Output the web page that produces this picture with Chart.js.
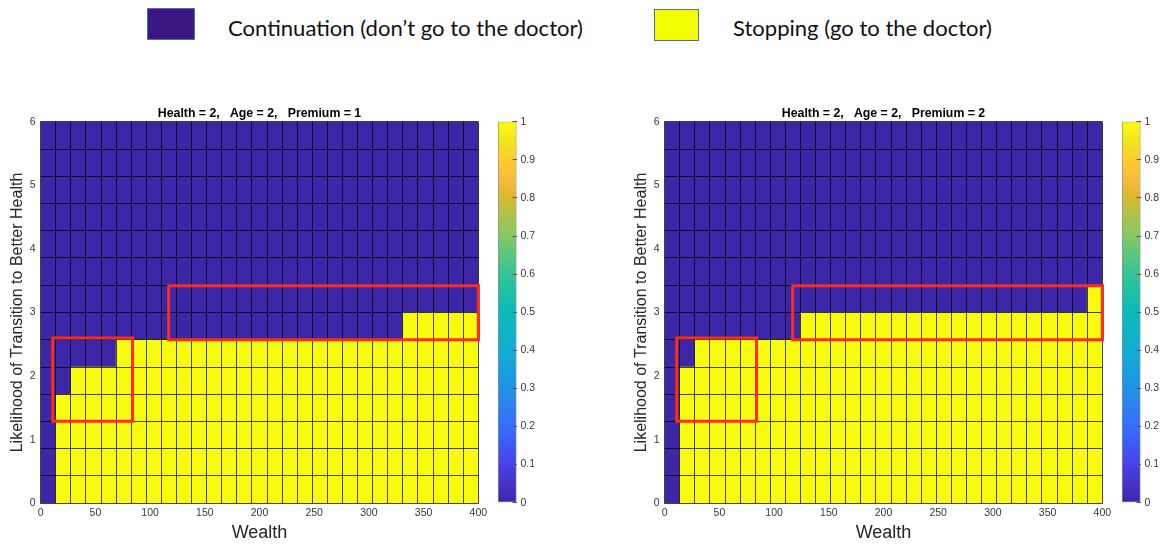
<!DOCTYPE html>
<html>
<head>
<meta charset="utf-8">
<script src="https://cdn.jsdelivr.net/npm/chart.js@4.4.1/dist/chart.umd.min.js"></script>
<style>
  html, body { margin: 0; padding: 0; background: #fff; }
  body { width: 1160px; height: 544px; position: relative; overflow: hidden; }
  canvas { position: absolute; }
  .swatch { position: absolute; box-sizing: border-box; border: 1px solid #4f6fa6; }
  .key { position: absolute; font-family: Lato, "Open Sans", sans-serif; font-size: 21px; line-height: 21px;
         color: #111; white-space: nowrap; transform-origin: 0 0; }
</style>
</head>
<body>
<div class="swatch" style="left:147px;top:8px;width:48px;height:32px;background:#3a1782"></div>
<div class="key" id="keyContinue" style="left:228px;top:17px" data-w="355">Continuation (don’t go to the doctor)</div>
<div class="swatch" style="left:654px;top:9px;width:45px;height:32px;background:#f2ff00"></div>
<div class="key" id="keyStop" style="left:733px;top:17px" data-w="259">Stopping (go to the doctor)</div>

<canvas id="panel1" width="519" height="444" style="left:0px;top:100px"></canvas>
<canvas id="bar1" width="60" height="444" style="left:490px;top:100px"></canvas>
<canvas id="panel2" width="519" height="444" style="left:624px;top:100px"></canvas>
<canvas id="bar2" width="46" height="444" style="left:1114px;top:100px"></canvas>

<script>
// Wealth grid: left edge of each of the 29 cells
const wealthCells = [0, 13.79, 27.59, 41.38, 55.17, 68.97, 82.76, 96.55, 110.34, 124.14,
  137.93, 151.72, 165.52, 179.31, 193.10, 206.90, 220.69, 234.48, 248.28, 262.07,
  275.86, 289.66, 303.45, 317.24, 331.03, 344.83, 358.62, 372.41, 386.21];
// Likelihood grid: edges of the 14 rows
const likelihoodEdges = [0, 0.43, 0.86, 1.29, 1.71, 2.14, 2.57, 3.00, 3.43, 3.86, 4.29, 4.71, 5.14, 5.57, 6];
const wealthTicks = [0, 50, 100, 150, 200, 250, 300, 350, 400];
const likelihoodTicks = [0, 1, 2, 3, 4, 5, 6];
const colorbarTicks = [0, 0.1, 0.2, 0.3, 0.4, 0.5, 0.6, 0.7, 0.8, 0.9, 1];

// Upper edge of the stopping region (value 1) in each wealth cell; above it the value is 0
const stopEdgePremium1 = [0, 1.71, 2.14, 2.14, 2.14, 2.57, 2.57, 2.57, 2.57, 2.57,
  2.57, 2.57, 2.57, 2.57, 2.57, 2.57, 2.57, 2.57, 2.57, 2.57,
  2.57, 2.57, 2.57, 2.57, 3.00, 3.00, 3.00, 3.00, 3.00];
const stopEdgePremium2 = [0, 2.14, 2.57, 2.57, 2.57, 2.57, 2.57, 2.57, 2.57, 3.00,
  3.00, 3.00, 3.00, 3.00, 3.00, 3.00, 3.00, 3.00, 3.00, 3.00,
  3.00, 3.00, 3.00, 3.00, 3.00, 3.00, 3.00, 3.00, 3.43];

// Highlight boxes: wealth range and likelihood range
const boxWealthPremium1 = [[11, 84], [117, 400]];
const boxLikelihoodPremium1 = [[1.29, 2.60], [2.57, 3.42]];
const boxWealthPremium2 = [[11, 84], [117, 400]];
const boxLikelihoodPremium2 = [[1.29, 2.60], [2.57, 3.42]];

// Parula colour map samples
const parulaPos = [0, 0.1, 0.2, 0.3, 0.4, 0.5, 0.6, 0.7, 0.8, 0.85, 0.9, 0.95, 1];
const parulaCol = ['#3e26a8', '#4743e8', '#3570fa', '#2192e6', '#13acd4', '#08bbbb', '#34c395',
  '#81c962', '#d7ba32', '#fcba3e', '#fccd30', '#f4e51e', '#f9fb0e'];

const COL_ZERO = '#3e26a8';
const COL_ONE = '#f9fb0e';
const TICK_FONT = { family: '"Liberation Sans", Arial, sans-serif', size: 10.5 };
const TICK_COLOR = '#383838';
const GRID_COLOR = 'rgba(0,0,0,0.72)';
const AXIS_COLOR = 'rgba(70,70,70,0.75)';

// fit the legend captions to their widths
document.querySelectorAll('.key').forEach(el => {
  const w = el.getBoundingClientRect().width;
  el.style.transform = 'scaleX(' + (parseFloat(el.dataset.w) / w) + ')';
});

const fixedTicks = values => scale => { scale.ticks = values.map(v => ({ value: v })); };

// redraw the highlight outlines after the grid so they sit on top
const outlinesOnTop = {
  id: 'outlinesOnTop',
  afterDraw(chart) {
    chart.data.datasets.forEach((ds, i) => {
      if (ds.type === 'line') chart.getDatasetMeta(i).controller.draw();
    });
  }
};

function outline(wr, lr) {
  return [
    { x: wr[0], y: lr[0] }, { x: wr[1], y: lr[0] }, { x: wr[1], y: lr[1] },
    { x: wr[0], y: lr[1] }, { x: wr[0], y: lr[0] }
  ];
}

function drawPanel(id, titleText, stopEdge, boxW, boxL) {
  const yMax = likelihoodEdges[likelihoodEdges.length - 1];
  const datasets = [
    {
      label: 'Stopping (go to the doctor)',
      data: stopEdge.map(e => [0, e]),
      backgroundColor: COL_ONE,
      xAxisID: 'x', yAxisID: 'y'
    },
    {
      label: 'Continuation (don’t go to the doctor)',
      data: stopEdge.map(e => [e, yMax]),
      backgroundColor: COL_ZERO,
      xAxisID: 'x', yAxisID: 'y'
    }
  ];
  boxW.forEach((wr, k) => {
    datasets.push({
      type: 'line',
      label: 'box' + k,
      data: outline(wr, boxL[k]),
      xAxisID: 'xw', yAxisID: 'y',
      borderColor: '#fb2c18',
      borderWidth: 3,
      borderJoinStyle: 'miter',
      borderCapStyle: 'square',
      pointRadius: 0,
      fill: false,
      tension: 0,
      clip: false
    });
  });

  return new Chart(document.getElementById(id), {
    type: 'bar',
    data: { labels: wealthCells.map(String), datasets },
    options: {
      responsive: false,
      animation: false,
      events: [],
      layout: { padding: { left: 0, right: 40.7, top: 0, bottom: 0 } },
      datasets: { bar: { barPercentage: 1, categoryPercentage: 1, borderWidth: 0, grouped: false } },
      plugins: {
        legend: { display: false },
        tooltip: { enabled: false },
        title: {
          display: true,
          fullSize: false,
          text: titleText,
          color: '#000',
          font: { family: '"Liberation Sans", Arial, sans-serif', size: 12.3, weight: 'bold', lineHeight: 1.2 },
          padding: { top: 6.2, bottom: 0.74 }
        }
      },
      scales: {
        x: {
          type: 'category',
          position: 'bottom',
          offset: true,
          ticks: { display: false },
          grid: { color: GRID_COLOR, lineWidth: 1, offset: true, drawTicks: false, z: 1 },
          border: { display: false },
          afterFit: s => { s.height = 0; }
        },
        xw: {
          type: 'linear',
          position: 'bottom',
          min: 0, max: 400,
          offset: false,
          afterBuildTicks: fixedTicks(wealthTicks),
          ticks: { font: TICK_FONT, color: TICK_COLOR, padding: 4, maxRotation: 0, autoSkip: false },
          grid: { display: false, drawTicks: false, offset: false },
          border: { display: true, color: AXIS_COLOR, width: 1, z: 2 },
          title: {
            display: true, text: 'Wealth', color: '#262626',
            font: { family: '"Liberation Sans", Arial, sans-serif', size: 18, lineHeight: 1.2 },
            padding: { top: 0, bottom: 0 }
          },
          afterFit: s => { s.height = 40.7; }
        },
        y: {
          type: 'linear',
          position: 'left',
          min: 0, max: yMax,
          afterBuildTicks: fixedTicks(likelihoodTicks),
          ticks: { font: TICK_FONT, color: TICK_COLOR, padding: 5 },
          grid: { display: false, drawTicks: false },
          border: { display: true, color: AXIS_COLOR, width: 1, z: 2 },
          title: {
            display: true, text: 'Likelihood of Transition to Better Health', color: '#262626',
            font: { family: '"Liberation Sans", Arial, sans-serif', size: 16, lineHeight: 1.2 },
            padding: { top: 8, bottom: 0 }
          },
          afterFit: s => { s.width = 40.7; }
        },
        yg: {
          type: 'linear',
          position: 'left',
          min: 0, max: yMax,
          afterBuildTicks: fixedTicks(likelihoodEdges),
          ticks: { display: false },
          grid: { color: GRID_COLOR, lineWidth: 1, drawTicks: false, z: 1 },
          border: { display: false },
          afterFit: s => { s.width = 0; }
        }
      }
    },
    plugins: [outlinesOnTop]
  });
}

function drawColorbar(id, axisWidth) {
  return new Chart(document.getElementById(id), {
    type: 'bar',
    data: {
      labels: [''],
      datasets: [{
        data: [[colorbarTicks[0], colorbarTicks[colorbarTicks.length - 1]]],
        backgroundColor: ctx => {
          const area = ctx.chart.chartArea;
          if (!area) return COL_ZERO;
          const g = ctx.chart.ctx.createLinearGradient(0, area.bottom, 0, area.top);
          parulaPos.forEach((p, i) => g.addColorStop(p, parulaCol[i]));
          return g;
        },
        borderColor: '#8c8c8c',
        borderWidth: 1,
        borderSkipped: false,
        barPercentage: 1,
        categoryPercentage: 1
      }]
    },
    options: {
      responsive: false,
      animation: false,
      events: [],
      layout: { padding: { left: 8, right: 0, top: 21.7, bottom: 41.3 } },
      plugins: { legend: { display: false }, tooltip: { enabled: false } },
      scales: {
        x: { display: false },
        y: {
          position: 'right',
          min: 0, max: 1,
          afterBuildTicks: fixedTicks(colorbarTicks),
          ticks: {
            font: TICK_FONT, color: TICK_COLOR, padding: 8,
            callback: v => String(Math.round(v * 10) / 10)
          },
          grid: { drawOnChartArea: false, tickLength: -4, color: '#555', lineWidth: 1, z: 1 },
          border: { display: false },
          afterFit: s => { s.width = axisWidth; }
        }
      }
    }
  });
}

drawPanel('panel1', 'Health = 2,   Age = 2,   Premium = 1', stopEdgePremium1, boxWealthPremium1, boxLikelihoodPremium1);
drawPanel('panel2', 'Health = 2,   Age = 2,   Premium = 2', stopEdgePremium2, boxWealthPremium2, boxLikelihoodPremium2);
drawColorbar('bar1', 33.5);
drawColorbar('bar2', 19.5);
</script>
</body>
</html>
